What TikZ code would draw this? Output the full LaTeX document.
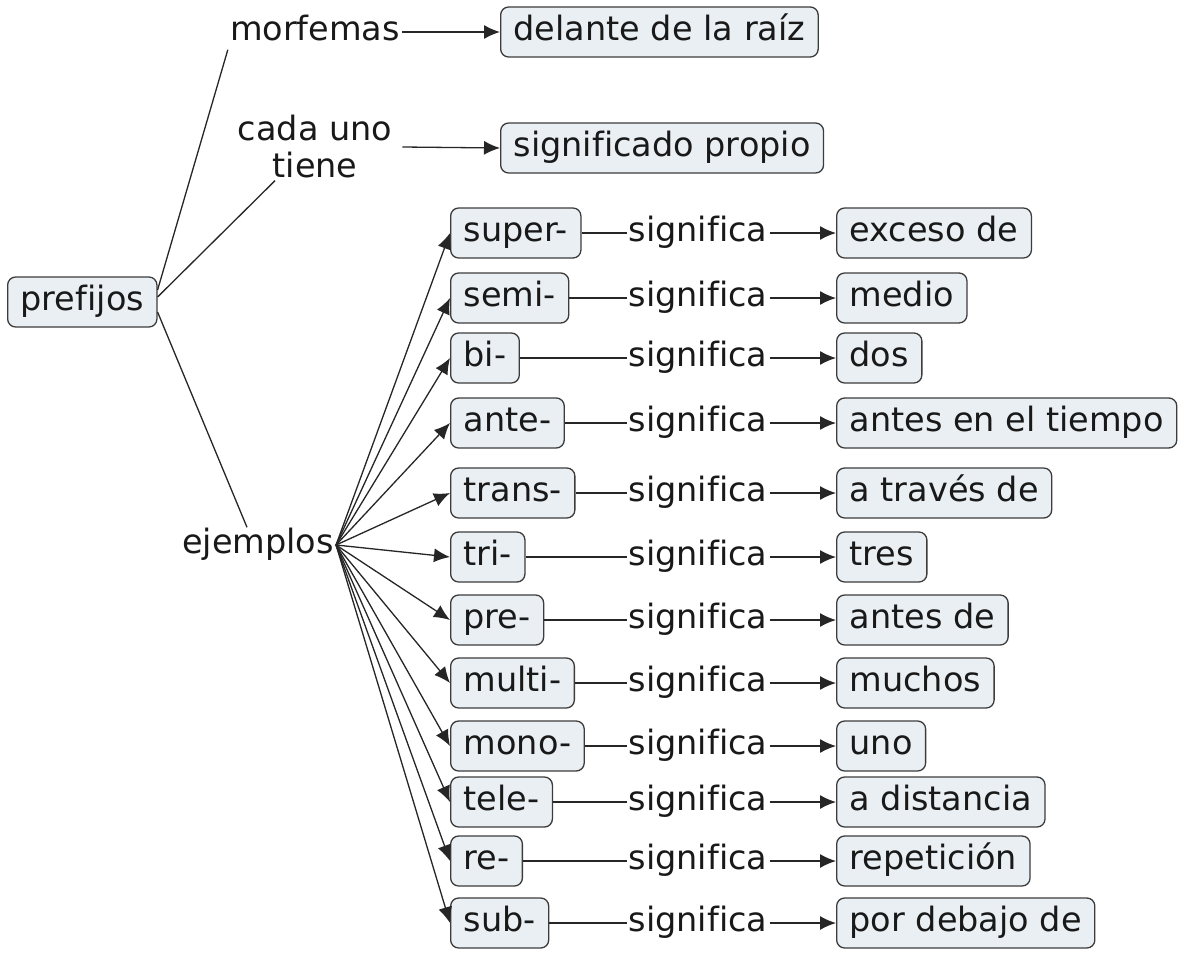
\documentclass[tikz,border=0pt]{standalone}
\usepackage{fontspec}
\setmainfont[Ligatures=NoCommon]{DejaVu Sans}
\usetikzlibrary{arrows.meta}
\definecolor{boxfill}{HTML}{E9EFF3}
\definecolor{boxline}{HTML}{3C3C3C}
\begin{document}
\begin{tikzpicture}[x=1pt,y=-1pt,
  every node/.style={font=\fontsize{33.5}{37}\selectfont, text=black!90},
  cbox/.style={draw=boxline, fill=boxfill, rounded corners=8pt, line width=1.3pt,
    text height=24pt, text depth=7pt, inner xsep=13pt, inner ysep=9.5pt},
  lbl/.style={inner sep=2pt, text height=24pt, text depth=7pt},
  conn/.style={line width=1.3pt, black!85},
  arr/.style={conn, -{Latex[length=16pt,width=14pt]}}]
\fill[white] (0,0) rectangle (1185,958);
\useasboundingbox (0,0) rectangle (1185,958);

\node[cbox, anchor=west] (pref) at (7,302) {prefijos};
\node[lbl] (morf) at (315,32) {morfemas};
\node[lbl, align=center, text height=, text depth=] (cada) at (315,147) {cada uno\\tiene};
\node[lbl] (ejem) at (258,545) {ejemplos};
\node[cbox, anchor=west] (dela) at (500,32) {delante de la raíz};
\node[cbox, anchor=west] (sigp) at (500,148) {significado propio};

\draw[conn] ([yshift=12pt]pref.east) -- (morf.south west);
\draw[conn] ([yshift=5pt]pref.east) -- ([xshift=-40pt]cada.south);
\draw[conn] ([yshift=-10pt]pref.east) -- ([xshift=-11pt]ejem.north);
\draw[arr] (morf.east) -- (dela.west);
\draw[arr] ([xshift=8pt]cada.east) -- (sigp.west);

\foreach \i/\p/\y/\r in {1/super-/233/exceso de, 2/semi-/298/medio, 3/bi-/358/dos,
  4/ante-/423/antes en el tiempo, 5/trans-/493/a través de, 6/tri-/557/tres,
  7/pre-/620/antes de, 8/multi-/683/muchos, 9/mono-/746/uno,
  10/tele-/802/a distancia, 11/re-/861/repetición, 12/sub-/923/por debajo de}{
  \node[cbox, anchor=west] (p\i) at (450,\y) {\p};
  \node[lbl] (s\i) at (698,\y) {significa};
  \node[cbox, anchor=west] (r\i) at (836,\y) {\r};
  \draw[arr] (ejem.east) -- (p\i.west);
  \draw[conn] (p\i.east) -- (s\i.west);
  \draw[arr] (s\i.east) -- (r\i.west);
}
\end{tikzpicture}
\end{document}
